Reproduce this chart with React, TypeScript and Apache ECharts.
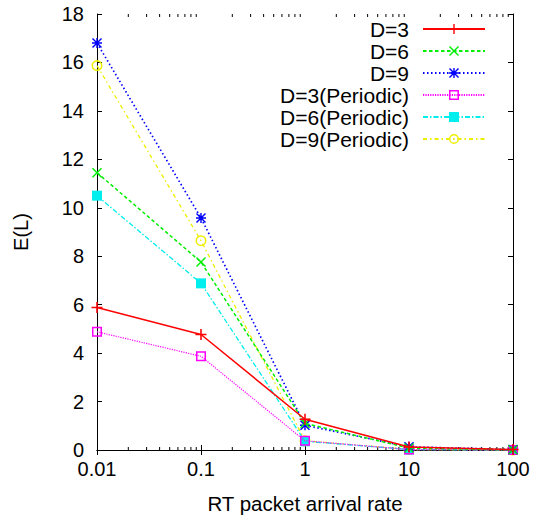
import React, { useEffect, useRef } from "react";
import * as echarts from "echarts";

const xValues = [0.01, 0.1, 1, 10, 100];
const xTickLabels = ["0.01", "0.1", "1", "10", "100"];
const minorTicks = [
  0.02, 0.03, 0.04, 0.05, 0.06, 0.07, 0.08, 0.09,
  0.2, 0.3, 0.4, 0.5, 0.6, 0.7, 0.8, 0.9,
  2, 3, 4, 5, 6, 7, 8, 9,
  20, 30, 40, 50, 60, 70, 80, 90,
];

const seriesNames = [
  "D=3",
  "D=6",
  "D=9",
  "D=3(Periodic)",
  "D=6(Periodic)",
  "D=9(Periodic)",
];
const d3 = [5.88, 4.77, 1.27, 0.12, 0.02];
const d6 = [11.45, 7.76, 1.1, 0.08, 0.01];
const d9 = [16.8, 9.58, 1.02, 0.13, 0.02];
const d3p = [4.88, 3.87, 0.38, 0.02, 0.0];
const d6p = [10.5, 6.88, 0.36, 0.02, 0.0];
const d9p = [15.87, 8.64, 0.38, 0.02, 0.0];
const allValues = [d3, d6, d9, d3p, d6p, d9p];

const colors = ["#ff0000", "#00ee00", "#0000ff", "#ff00ff", "#00eeee", "#eeee00"];
const dashes: any[] = ["solid", [3.5, 2.5], [1.5, 2.5], [1.2, 1.2], [5, 2, 1.5, 2], [4, 3, 1.5, 3]];
const widths = [1.5, 1.5, 1.7, 1.2, 1.3, 1.3];

const SYM_PLUS = "path://M4.3 0H5.7V4.3H10V5.7H5.7V10H4.3V5.7H0V4.3H4.3Z";
const SYM_X = "path://M0 1L1 0L5 4L9 0L10 1L6 5L10 9L9 10L5 6L1 10L0 9L4 5Z";
const SYM_STAR =
  "path://M4.3 0H5.7V4.3H10V5.7H5.7V10H4.3V5.7H0V4.3H4.3Z M0 1L1 0L5 4L9 0L10 1L6 5L10 9L9 10L5 6L1 10L0 9L4 5Z";
const SYM_ESQ = "path://M0 0H10V10H0Z M1.5 1.5V8.5H8.5V1.5Z";
const SYM_FSQ = "rect";
const SYM_RING =
  "path://M5 0A5 5 0 1 1 5 10A5 5 0 1 1 5 0Z M5 1.4A3.6 3.6 0 1 0 5 8.6A3.6 3.6 0 1 0 5 1.4Z";
const symbols = [SYM_PLUS, SYM_X, SYM_STAR, SYM_ESQ, SYM_FSQ, SYM_RING];
const symbolSizes = [11, 10, 10, 10, 10, 11];

const FONT = "Liberation Sans, Arial, Helvetica, sans-serif";

export default function App() {
  const ref = useRef<HTMLDivElement>(null);
  useEffect(() => {
    if (!ref.current) return;
    const chart = echarts.init(ref.current, undefined, { renderer: "svg" });

    const lineSeries = seriesNames.map((name, i) => ({
      name,
      type: "line",
      xAxisIndex: 0,
      yAxisIndex: 0,
      data: xValues.map((x, j) => [x, allValues[i][j]]),
      symbol: symbols[i],
      symbolSize: symbolSizes[i],
      clip: false,
      z: 10 - i,
      lineStyle: { color: colors[i], width: widths[i], type: dashes[i] },
      itemStyle: { color: colors[i], borderWidth: 0 },
      emphasis: { disabled: true },
    }));

    const tickSeries = {
      type: "custom",
      xAxisIndex: 0,
      yAxisIndex: 0,
      silent: true,
      clip: false,
      data: minorTicks.map((v) => [v, 0]),
      encode: { x: 0, y: 1 },
      renderItem: (params: any, api: any) => {
        const v = api.value(0);
        const b = api.coord([v, 0]);
        const t = api.coord([v, 18]);
        return {
          type: "group",
          children: [
            {
              type: "line",
              shape: { x1: b[0], y1: b[1], x2: b[0], y2: b[1] - 3 },
              style: { stroke: "#000", lineWidth: 1 },
            },
            {
              type: "line",
              shape: { x1: t[0], y1: t[1], x2: t[0], y2: t[1] + 3 },
              style: { stroke: "#000", lineWidth: 1 },
            },
          ],
        };
      },
    };

    const legends = seriesNames.map((name, i) => ({
      data: [name],
      right: 48,
      top: 29 + 22 * i - 11,
      orient: "vertical",
      align: "right",
      padding: 0,
      itemWidth: 62,
      itemHeight: 12.5,
      selectedMode: false,
      textStyle: {
        fontSize: 21,
        fontFamily: FONT,
        color: "#000",
        padding: [0, 9, 0, 0],
        lineHeight: 22,
      },
    }));

    const logCommon = {
      type: "log",
      logBase: 10,
      min: 0.01,
      max: 100,
      axisLine: { show: true, lineStyle: { color: "#000", width: 1 } },
      axisTick: { show: true, inside: true, length: 5, lineStyle: { color: "#000" } },
      splitLine: { show: false },
      minorTick: { show: false },
      minorSplitLine: { show: false },
    };
    const valCommon = {
      type: "value",
      min: 0,
      max: 18,
      interval: 2,
      axisLine: { show: true, lineStyle: { color: "#000", width: 1 } },
      axisTick: { show: true, inside: true, length: 5, lineStyle: { color: "#000" } },
      splitLine: { show: false },
    };

    chart.setOption({
      animation: false,
      backgroundColor: "#ffffff",
      grid: { left: 97, right: 21, top: 14, bottom: 69 },
      legend: legends,
      xAxis: [
        {
          ...logCommon,
          position: "bottom",
          name: "RT packet arrival rate",
          nameLocation: "middle",
          nameGap: 43,
          nameTextStyle: { fontSize: 20.5, fontFamily: FONT, color: "#000" },
          axisLabel: {
            show: true,
            margin: 9,
            fontSize: 20,
            fontFamily: FONT,
            color: "#000",
            formatter: (v: number) => {
              const k = Math.round(Math.log10(v)) + 2;
              return xTickLabels[k] ?? "";
            },
          },
        },
        {
          ...logCommon,
          position: "top",
          axisLabel: { show: false },
        },
      ],
      yAxis: [
        {
          ...valCommon,
          position: "left",
          name: "E(L)",
          nameLocation: "middle",
          nameGap: 66,
          nameTextStyle: { fontSize: 20, fontFamily: FONT, color: "#000" },
          axisLabel: {
            show: true,
            margin: 13,
            fontSize: 20,
            fontFamily: FONT,
            color: "#000",
          },
        },
        {
          ...valCommon,
          position: "right",
          axisLabel: { show: false },
        },
      ],
      series: [...lineSeries, tickSeries],
    });

    return () => {
      chart.dispose();
    };
  }, []);

  return (
    <div
      ref={ref}
      style={{ position: "fixed", left: 0, top: 0, width: 534, height: 519, background: "#fff" }}
    />
  );
}
